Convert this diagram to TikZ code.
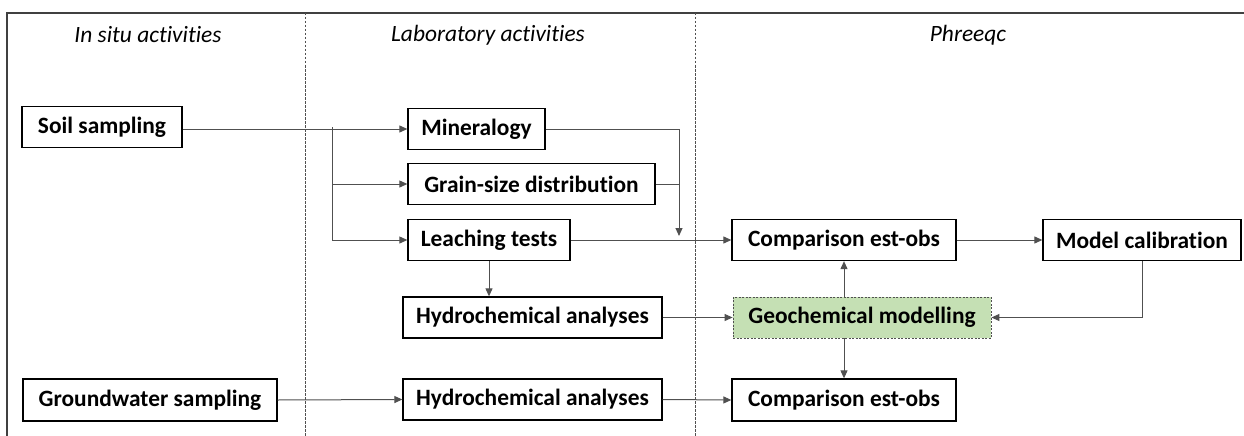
\documentclass[tikz,border=0pt]{standalone}
\usepackage{fontspec}
\setmainfont{Carlito}[Ligatures=NoCommon]
\usetikzlibrary{arrows.meta}
\definecolor{geogreen}{HTML}{C5E0B4}
\definecolor{linegray}{HTML}{505050}
\tikzset{
  box/.style={draw=black, line width=1.3pt, minimum height=41pt, inner sep=0pt, font=\fontsize{23.4}{26}\selectfont\bfseries},
  geobox/.style={box, draw=linegray, line width=0.8pt, dash pattern=on 2pt off 1.5pt, fill=geogreen},
  arr/.style={draw=linegray, line width=1pt, -{Triangle[length=8pt,width=7pt]}},
  ln/.style={draw=linegray, line width=1pt},
  hdr/.style={font=\fontsize{23.4}{26}\selectfont\itshape},
  sep/.style={draw=linegray, line width=0.7pt, dash pattern=on 2.5pt off 1.5pt},
}
\begin{document}
\begin{tikzpicture}[x=1pt,y=-1pt]
\useasboundingbox (0,0) rectangle (1244,436);
% frame
\draw[draw=black!75, line width=2pt] (7,436) -- (7,13) -- (1244,13);
\draw[sep] (305,13) -- (305,436);
\draw[sep] (695,13) -- (695,436);
% headers
\node[hdr] (h1) at (148,35) {In situ activities};
\node[hdr] (h2) at (488,35) {Laboratory activities};
\node[hdr] (h3) at (968,35) {Phreeqc};
% boxes
\node[box, minimum width=160pt] (soil) at (102,127) {Soil sampling};
\node[box, minimum width=137pt] (miner) at (476.5,129) {Mineralogy};
\node[box, minimum width=247pt] (grain) at (531.5,184) {Grain-size distribution};
\node[box, minimum width=162pt] (leach) at (489,240) {Leaching tests};
\node[box, minimum width=259pt] (hydro1) at (532.5,317.5) {Hydrochemical analyses};
\node[box, minimum width=224pt] (comp1) at (844,240) {Comparison est-obs};
\node[box, minimum width=198pt] (model) at (1142,240) {Model calibration};
\node[geobox, minimum width=258pt] (geo) at (862,317.5) {Geochemical modelling};
\node[box, minimum width=224pt, minimum height=42pt] (comp2) at (844,400) {Comparison est-obs};
\node[box, minimum width=254pt, minimum height=42pt] (gw) at (150,400) {Groundwater sampling};
\node[box, minimum width=259pt] (hydro2) at (532.5,399.5) {Hydrochemical analyses};
% connectors
\coordinate (br) at (332,127);
\coordinate (mj) at (679,236);
\draw[arr] (soil.east |- miner.west) -- (miner.west);
\draw[arr] (br) |- (grain.west);
\draw[arr] (br) |- (leach.west);
\draw[arr] (miner.east) -| (mj);
\draw[ln] (grain.east) -- (grain.east -| mj);
\draw[arr] (leach.east) -- (comp1.west);
\draw[arr] (leach.south) -- (leach.south |- hydro1.north);
\draw[arr] (hydro1.east) -- (geo.west);
\draw[arr] (comp1.east) -- (model.west);
\draw[arr] (model.south) |- (geo.east);
\draw[arr] (geo.north -| comp1.south) -- (comp1.south);
\draw[arr] (geo.south -| comp2.north) -- (comp2.north);
\draw[arr] (gw.east) -- (hydro2.west);
\draw[arr] (hydro2.east) -- (comp2.west);
\end{tikzpicture}
\end{document}
